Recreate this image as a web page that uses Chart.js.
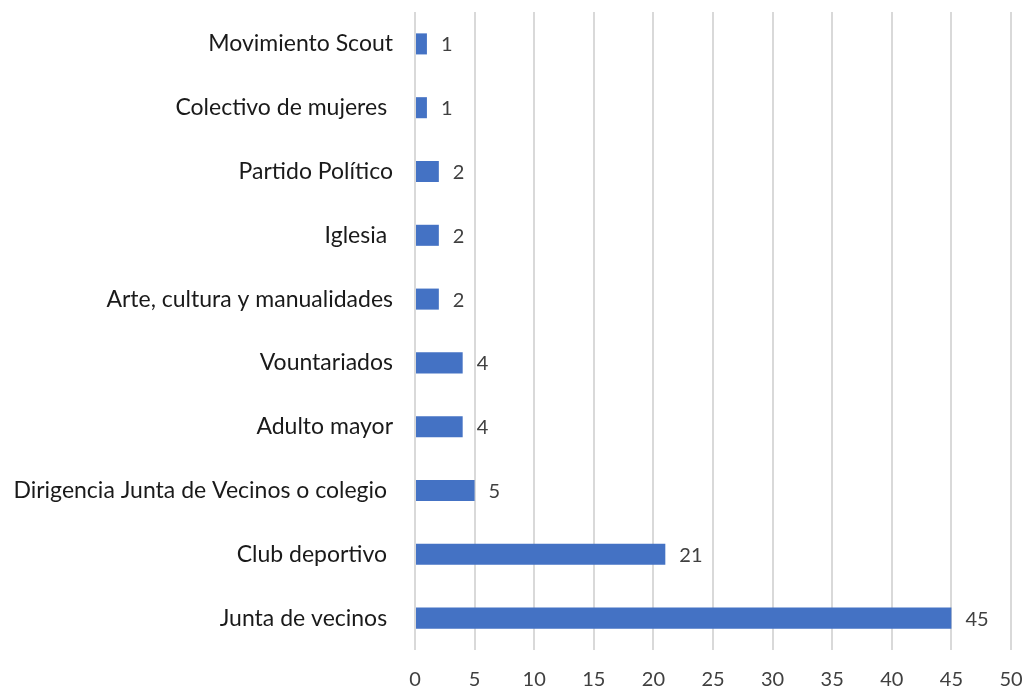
<!DOCTYPE html>
<html>
<head>
<meta charset="utf-8">
<script src="https://cdn.jsdelivr.net/npm/chart.js@4"></script>
<style>
html,body{margin:0;padding:0;background:#fff;}
#wrap{width:1022px;height:690px;}
</style>
</head>
<body>
<div id="wrap"><canvas id="c" width="1022" height="690"></canvas></div>
<script>
const categories = [
  "Movimiento Scout",
  "Colectivo de mujeres ",
  "Partido Político",
  "Iglesia ",
  "Arte, cultura y manualidades",
  "Vountariados",
  "Adulto mayor",
  "Dirigencia Junta de Vecinos o colegio ",
  "Club deportivo ",
  "Junta de vecinos "
];
const values = [1, 1, 2, 2, 2, 4, 4, 5, 21, 45];
const xMin = 0, xMax = 50, xStep = 5;

const FONT = "Lato, 'Liberation Sans', sans-serif";

const valueLabels = {
  id: 'valueLabels',
  afterDatasetsDraw(chart) {
    const ctx = chart.ctx;
    const meta = chart.getDatasetMeta(0);
    ctx.save();
    ctx.font = "20px " + FONT;
    ctx.fillStyle = "#404040";
    ctx.textAlign = "left";
    ctx.textBaseline = "middle";
    meta.data.forEach((bar, i) => {
      ctx.fillText(String(values[i]), bar.x + 14, bar.y + 1);
    });
    ctx.restore();
  }
};

new Chart(document.getElementById('c'), {
  type: 'bar',
  data: {
    labels: categories,
    datasets: [{
      data: values,
      backgroundColor: '#4472C4',
      borderWidth: 0,
      barPercentage: 0.33,
      categoryPercentage: 1.0
    }]
  },
  options: {
    indexAxis: 'y',
    responsive: false,
    animation: false,
    layout: { padding: { top: 12, right: 11, left: 0, bottom: 0 } },
    plugins: { legend: { display: false }, tooltip: { enabled: false } },
    scales: {
      x: {
        min: xMin, max: xMax,
        ticks: { stepSize: xStep, color: '#404040', font: { family: FONT, size: 20 }, padding: 18 },
        grid: { color: '#d9d9d9', lineWidth: 2, drawTicks: false },
        border: { display: false },
        afterFit(s) { s.height = 40; s.paddingLeft = 0; s.paddingRight = 0; }
      },
      y: {
        ticks: { color: '#1a1a1a', font: { family: FONT, size: 23 }, padding: 22 },
        grid: { display: false, drawTicks: false },
        border: { display: false },
        afterFit(s) { s.width = 415; s.paddingTop = 0; s.paddingBottom = 0; }
      }
    }
  },
  plugins: [valueLabels]
});
</script>
</body>
</html>
